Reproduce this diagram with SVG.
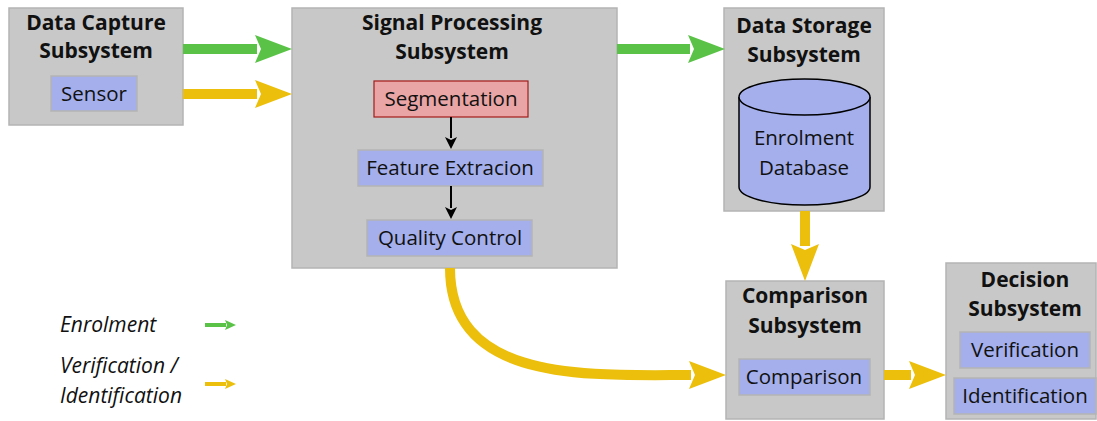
<svg xmlns="http://www.w3.org/2000/svg" width="1097" height="421" viewBox="0 0 1097 421">
<defs>
<style>
.sys{fill:#c8c8c8;stroke:#b4b4b4;stroke-width:1.5}
.blk{fill:#a4afeb;stroke:#b4b4b4;stroke-width:1.5}
.seg{fill:#e9a5a5;stroke:#a31a1a;stroke-width:1.2}
.t{font-family:"Open Sans",Lato,sans-serif;font-size:20.5px;fill:#111;text-anchor:middle}
.b{font-family:"Open Sans",Lato,sans-serif;font-size:21px;font-weight:bold;fill:#111;text-anchor:middle}
.i{font-family:"Open Sans",Lato,sans-serif;font-size:21px;font-style:italic;fill:#111}
.g{stroke:#5ac347;stroke-width:10;fill:none}
.y{stroke:#ebbf0c;stroke-width:10;fill:none}
.k{stroke:#000;stroke-width:2;fill:none}
</style>
<marker id="hg" markerUnits="userSpaceOnUse" markerWidth="40" markerHeight="30" refX="2" refY="15" orient="auto"><path d="M0,1 L37,15 L0,29 L6,15 Z" fill="#5ac347"/></marker>
<marker id="hy" markerUnits="userSpaceOnUse" markerWidth="40" markerHeight="30" refX="2" refY="15" orient="auto"><path d="M0,1 L37,15 L0,29 L6,15 Z" fill="#ebbf0c"/></marker>
<marker id="hk" markerUnits="userSpaceOnUse" markerWidth="14" markerHeight="14" refX="1" refY="7" orient="auto"><path d="M0,1 L12,7 L0,13 L3,7 Z" fill="#000"/></marker>
<marker id="sg" markerUnits="userSpaceOnUse" markerWidth="12" markerHeight="12" refX="1" refY="6" orient="auto"><path d="M0,1 L11,6 L0,11 L2,6 Z" fill="#5ac347"/></marker>
<marker id="sy" markerUnits="userSpaceOnUse" markerWidth="12" markerHeight="12" refX="1" refY="6" orient="auto"><path d="M0,1 L11,6 L0,11 L2,6 Z" fill="#ebbf0c"/></marker>
</defs>

<g id="capture">
<rect class="sys" x="9" y="8" width="174" height="117"/>
<text class="b" x="96" y="30">Data Capture</text>
<text class="b" x="96" y="58">Subsystem</text>
<rect class="blk" x="51" y="76" width="86" height="35"/>
<text class="t" x="94" y="101">Sensor</text>
</g>

<g id="signal">
<rect class="sys" x="292" y="8" width="325" height="260"/>
<text class="b" x="452" y="30">Signal Processing</text>
<text class="b" x="452" y="59">Subsystem</text>
<g id="segmentation">
<rect class="seg" x="374" y="81" width="154" height="36"/>
<text class="t" x="451" y="106">Segmentation</text>
</g>
<g id="feature">
<rect class="blk" x="358" y="150" width="185" height="36"/>
<text class="t" x="450" y="175">Feature Extracion</text>
</g>
<g id="quality">
<rect class="blk" x="367" y="220" width="165" height="36"/>
<text class="t" x="450" y="245">Quality Control</text>
</g>
</g>

<g id="storage">
<rect class="sys" x="724" y="8" width="160" height="203"/>
<text class="b" x="804" y="33">Data Storage</text>
<text class="b" x="804" y="62">Subsystem</text>
<g id="database">
<path d="M739,97 L739,187 A65.5,18 0 0 0 870,187 L870,97" fill="#a4afeb" stroke="#000" stroke-width="1.5"/>
<ellipse cx="804.5" cy="97" rx="65.5" ry="18" fill="#a4afeb" stroke="#000" stroke-width="1.5"/>
<text class="t" x="804" y="145">Enrolment</text>
<text class="t" x="804" y="175">Database</text>
</g>
</g>

<g id="comparison">
<rect class="sys" x="726" y="281" width="158" height="138"/>
<text class="b" x="805" y="303">Comparison</text>
<text class="b" x="805" y="333">Subsystem</text>
<rect class="blk" x="739" y="359" width="131" height="36"/>
<text class="t" x="804" y="384">Comparison</text>
</g>

<g id="decision">
<rect class="sys" x="946" y="263" width="150" height="156"/>
<text class="b" x="1025" y="287">Decision</text>
<text class="b" x="1025" y="316">Subsystem</text>
<rect class="blk" x="960" y="332" width="130" height="36"/>
<text class="t" x="1025" y="357">Verification</text>
<rect class="blk" x="954" y="378" width="142" height="36"/>
<text class="t" x="1025" y="403">Identification</text>
</g>

<g id="connectors">
<path class="g" d="M183,49 L257,49" marker-end="url(#hg)"/>
<path class="y" d="M183,94 L257,94" marker-end="url(#hy)"/>
<path class="g" d="M617,49 L690,49" marker-end="url(#hg)"/>
<path class="y" d="M805,211 L805,246" marker-end="url(#hy)"/>
<path class="y" d="M450,268 C450,384 590,375 691,375" marker-end="url(#hy)"/>
<path class="y" d="M884,375 L911,375" marker-end="url(#hy)"/>
<path class="k" d="M451,117 L451,138" marker-end="url(#hk)"/>
<path class="k" d="M451,186 L451,208" marker-end="url(#hk)"/>
</g>

<g id="legend">
<text class="i" x="60" y="332">Enrolment</text>
<text class="i" x="60" y="373">Verification /</text>
<text class="i" x="60" y="403">Identification</text>
<path d="M205,325 L226,325" stroke="#5ac347" stroke-width="4" marker-end="url(#sg)"/>
<path d="M205,384 L226,384" stroke="#ebbf0c" stroke-width="4" marker-end="url(#sy)"/>
</g>
</svg>
